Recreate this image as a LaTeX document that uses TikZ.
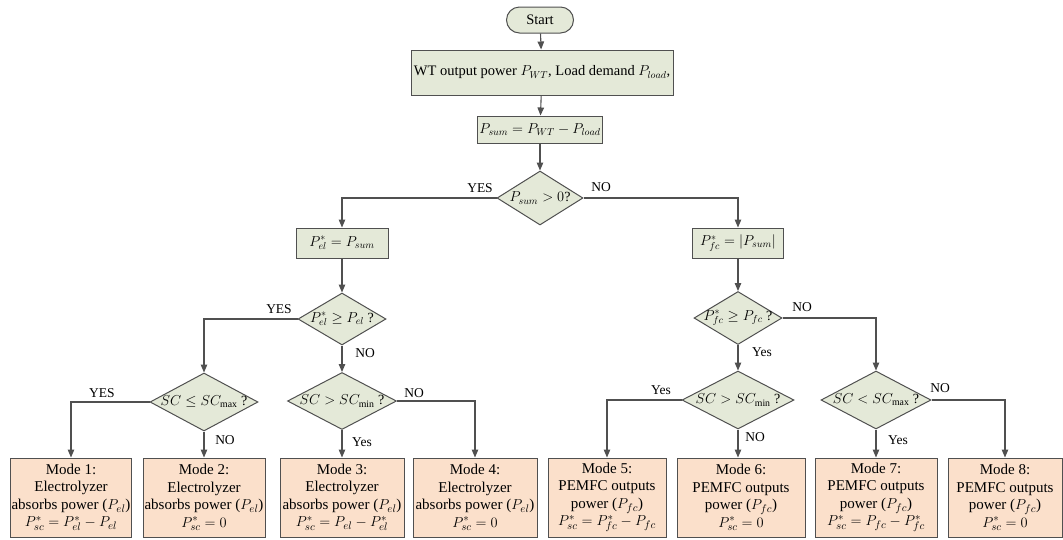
\documentclass[tikz,border=0pt]{standalone}
\usepackage{fontspec}
\setmainfont{Liberation Serif}
\newfontfamily\tnr{Liberation Serif}
\usetikzlibrary{shapes.geometric,shapes.misc,arrows.meta}
\definecolor{boxgreen}{RGB}{228,233,216}
\definecolor{boxpeach}{RGB}{251,224,203}
\definecolor{edgegray}{RGB}{80,80,80}
\newcommand{\dtxt}[1]{\makebox[0pt]{#1}}
\tikzset{
 proc/.style={draw=edgegray, line width=1pt, fill=boxgreen, rectangle, inner sep=0pt, font=\tnr\fontsize{14.5}{16}\selectfont},
 dec/.style={draw=edgegray, line width=1pt, fill=boxgreen, diamond, inner sep=0pt, font=\tnr\fontsize{14}{16}\selectfont},
 modebox/.style={draw=edgegray, line width=1pt, fill=boxpeach, rectangle, inner sep=0pt, align=center, minimum height=79pt, font=\tnr\fontsize{15}{17.5}\selectfont},
 term/.style={draw=edgegray, line width=1pt, fill=boxgreen, rounded rectangle, inner sep=0pt, minimum width=67pt, minimum height=26pt, font=\tnr\fontsize{14.5}{16}\selectfont},
 lbl/.style={font=\tnr\fontsize{13.5}{15}\selectfont, inner sep=0pt},
 flow/.style={draw=edgegray, line width=1.1pt, -{Triangle[length=8pt,width=6.5pt]}},
}
\begin{document}
\begin{tikzpicture}[x=1pt,y=-1pt]
\useasboundingbox (0,0) rectangle (1063,539);
% top chain
\node[term] (start) at (540,20) {Start};
\node[proc, minimum width=262pt, minimum height=45pt] (input) at (542,72.5) {WT output power $P_{WT}$, Load demand $P_{load}$,};
\node[proc, minimum width=125pt, minimum height=27pt] (sum) at (540,129.5) {$P_{sum}=P_{WT}-P_{load}$};
\node[dec, minimum width=86pt, minimum height=54pt] (d1) at (540,198) {\dtxt{$P_{sum}>0$?}};
% second level
\node[proc, minimum width=92pt, minimum height=30pt] (bel) at (342,243) {$P^{*}_{el}=P_{sum}$};
\node[proc, minimum width=91pt, minimum height=30pt] (bfc) at (738,243) {$P^{*}_{fc}=\left|P_{sum}\right|$};
% decisions
\node[dec, minimum width=88pt, minimum height=52pt] (d2) at (342,319) {\dtxt{$P^{*}_{el}\geq P_{el}$ ?}};
\node[dec, minimum width=108pt, minimum height=58pt] (d3) at (204,402) {\dtxt{$SC\leq SC_{\max}$ ?}};
\node[dec, minimum width=109pt, minimum height=57pt] (d4) at (342,401) {\dtxt{$SC>SC_{\min}$ ?}};
\node[dec, minimum width=88pt, minimum height=53pt] (d5) at (738,318) {\dtxt{$P^{*}_{fc}\geq P_{fc}$ ?}};
\node[dec, minimum width=112pt, minimum height=58pt] (d6) at (738,400) {\dtxt{$SC>SC_{\min}$ ?}};
\node[dec, minimum width=110pt, minimum height=58pt] (d7) at (876,400) {\dtxt{$SC<SC_{\max}$ ?}};
% modes
\node[modebox, minimum width=121pt] (m1) at (71,497.5) {Mode 1:\\Electrolyzer\\absorbs power ($P_{el}$)\\$P^{*}_{sc}=P^{*}_{el}-P_{el}$};
\node[modebox, minimum width=122pt] (m2) at (204,497.5) {Mode 2:\\Electrolyzer\\absorbs power ($P_{el}$)\\$P^{*}_{sc}=0$};
\node[modebox, minimum width=124pt] (m3) at (342,497.5) {Mode 3:\\Electrolyzer\\absorbs power ($P_{el}$)\\$P^{*}_{sc}=P_{el}-P^{*}_{el}$};
\node[modebox, minimum width=124pt] (m4) at (475,497.5) {Mode 4:\\Electrolyzer\\absorbs power ($P_{el}$)\\$P^{*}_{sc}=0$};
\node[modebox, minimum width=118pt] (m5) at (607,497.5) {Mode 5:\\PEMFC outputs\\power ($P_{fc}$)\\$P^{*}_{sc}=P^{*}_{fc}-P_{fc}$};
\node[modebox, minimum width=128pt] (m6) at (741,497.5) {Mode 6:\\PEMFC outputs\\power ($P_{fc}$)\\$P^{*}_{sc}=0$};
\node[modebox, minimum width=122pt] (m7) at (876,497.5) {Mode 7:\\PEMFC outputs\\power ($P_{fc}$)\\$P^{*}_{sc}=P_{fc}-P^{*}_{fc}$};
\node[modebox, minimum width=114pt] (m8) at (1005,497.5) {Mode 8:\\PEMFC outputs\\power ($P_{fc}$)\\$P^{*}_{sc}=0$};
% connectors
\draw[flow] (start) -- (input);
\draw[flow] (input) -- (sum);
\draw[flow] (sum) -- (d1);
\draw[flow] (d1.west) -| (bel.north);
\draw[flow] (d1.east) -| (bfc.north);
\draw[flow] (bel) -- (d2);
\draw[flow] (bfc) -- (d5);
\draw[flow] (d2.west) -| (d3.north);
\draw[flow] (d2) -- (d4);
\draw[flow] (d3.west) -| (m1.north);
\draw[flow] (d3) -- (m2);
\draw[flow] (d4) -- (m3);
\draw[flow] (d4.east) -| (m4.north);
\draw[flow] (d5.east) -| (d7.north);
\draw[flow] (d5) -- (d6);
\draw[flow] (d6.west) -| (m5.north);
\draw[flow] (d6.south) -- (d6.south |- m6.north);
\draw[flow] (d7) -- (m7);
\draw[flow] (d7.east) -| (m8.north);
% labels
\node[lbl] (y1) at (480,188) {YES};
\node[lbl] (n1) at (601,187) {NO};
\node[lbl] (y2) at (279,309) {YES};
\node[lbl] (n2) at (365,353) {NO};
\node[lbl] (y3) at (102,393) {YES};
\node[lbl] (n3) at (225,440) {NO};
\node[lbl] (n4) at (414,393) {NO};
\node[lbl] (y4) at (362,442) {Yes};
\node[lbl] (n5) at (802,307) {NO};
\node[lbl] (y5) at (762,352) {Yes};
\node[lbl] (y6) at (661,390) {Yes};
\node[lbl] (n6) at (755,437) {NO};
\node[lbl] (n7) at (940,388) {NO};
\node[lbl] (y7) at (898,440) {Yes};
\end{tikzpicture}
\end{document}
